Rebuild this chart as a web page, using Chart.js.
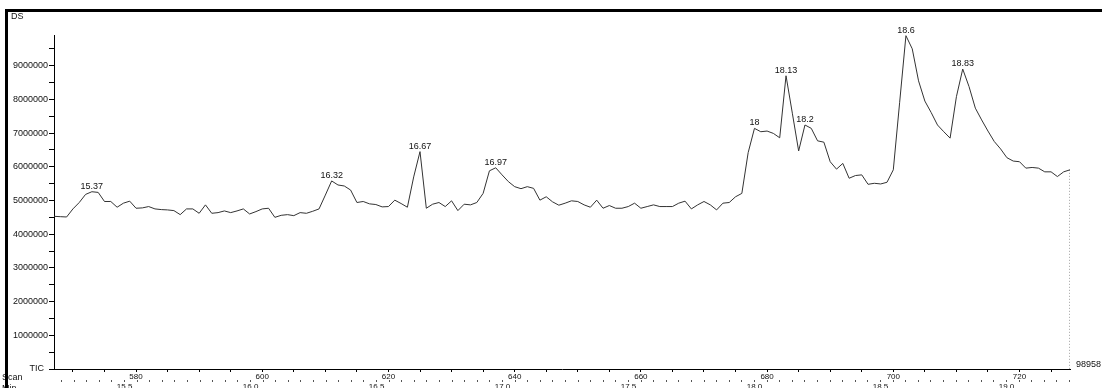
<!DOCTYPE html>
<html>
<head>
<meta charset="utf-8">
<script src="https://cdn.jsdelivr.net/npm/chart.js@4/dist/chart.umd.min.js"></script>
<style>
  body { margin: 0; background: #fff; }
  #wrap { position: relative; width: 1102px; height: 388px; overflow: hidden; }
  #frame { position: absolute; left: 5px; top: 9px; width: 1200px; height: 500px;
           border-left: 3px solid #000; border-top: 3px solid #000; pointer-events: none; }
  canvas { position: absolute; left: 0; top: 0; }
</style>
</head>
<body>
<div id="wrap">
  <canvas id="tic" width="1102" height="388"></canvas>
  <div id="frame"></div>
</div>
<script>
// scans 567 .. 728, one TIC value per scan
var firstScan = 567;
var tic = [
  4530000, 4520000, 4510000, 4750000, 4940000, 5180000, 5260000, 5240000, 4970000, 4970000,
  4800000, 4920000, 4980000, 4770000, 4780000, 4820000, 4750000, 4730000, 4720000, 4700000,
  4580000, 4750000, 4750000, 4620000, 4870000, 4620000, 4640000, 4690000, 4640000, 4690000,
  4750000, 4600000, 4670000, 4750000, 4770000, 4500000, 4560000, 4580000, 4550000, 4640000,
  4620000, 4680000, 4750000, 5160000, 5580000, 5460000, 5430000, 5310000, 4940000, 4970000,
  4900000, 4880000, 4810000, 4820000, 5010000, 4910000, 4800000, 5700000, 6450000, 4770000,
  4890000, 4940000, 4820000, 4990000, 4700000, 4890000, 4870000, 4940000, 5210000, 5880000,
  5970000, 5760000, 5560000, 5410000, 5350000, 5410000, 5360000, 5010000, 5110000, 4960000,
  4860000, 4920000, 4990000, 4970000, 4870000, 4800000, 5010000, 4770000, 4850000, 4770000,
  4770000, 4820000, 4920000, 4770000, 4820000, 4870000, 4820000, 4820000, 4820000, 4920000,
  4980000, 4750000, 4870000, 4970000, 4870000, 4720000, 4920000, 4940000, 5110000, 5210000,
  6420000, 7140000, 7040000, 7060000, 6990000, 6860000, 8700000, 7590000, 6470000, 7240000,
  7140000, 6770000, 6730000, 6150000, 5930000, 6100000, 5660000, 5740000, 5760000, 5480000,
  5510000, 5490000, 5540000, 5910000, 7900000, 9890000, 9500000, 8550000, 7950000, 7610000,
  7240000, 7040000, 6850000, 8080000, 8900000, 8380000, 7740000, 7390000, 7060000, 6750000,
  6530000, 6270000, 6170000, 6150000, 5960000, 5980000, 5960000, 5850000, 5850000, 5710000,
  5850000, 5910000
];

// labelled peaks (scan number and retention time text)
var peakScans = [573, 611, 625, 637, 678, 683, 686, 702, 711];
var peakLabels = ['15.37', '16.32', '16.67', '16.97', '18', '18.13', '18.2', '18.6', '18.83'];

var scanMin = 567, scanMax = 728;
var minuteMin = 15.22, minuteMax = 19.252;
var yMax = 9910000;
var totalLabel = '98958';

// tick spacing: minor marks, labelled every n-th
var scanStep = 5, scanLabelEvery = 20;
var minuteStep = 0.05, minuteLabelEvery = 0.5;
var yStep = 500000, yLabelEvery = 1000000;

var points = [];
for (var i = 0; i < tic.length; i++) {
  points.push({ x: firstScan + i, y: tic[i] });
}
var last = points[points.length - 1];

function stepTicks(lo, hi, step) {
  var out = [];
  var k0 = Math.ceil(lo / step - 1e-9), k1 = Math.floor(hi / step + 1e-9);
  for (var k = k0; k <= k1; k++) out.push({ value: Math.round(k * step * 1000) / 1000 });
  return out;
}
function isMultiple(v, m) {
  var q = v / m;
  return Math.abs(q - Math.round(q)) < 1e-6;
}

var fnt = 'Liberation Sans, Arial, sans-serif';

var textPlugin = {
  id: 'texts',
  afterDatasetsDraw: function(chart) {
    var ctx = chart.ctx;
    var xs = chart.scales.x, ys = chart.scales.y;
    ctx.save();
    ctx.fillStyle = '#111';
    ctx.font = '9px ' + fnt;
    ctx.textAlign = 'center';
    ctx.textBaseline = 'alphabetic';
    for (var i = 0; i < peakScans.length; i++) {
      var v = tic[peakScans[i] - firstScan];
      ctx.fillText(peakLabels[i], xs.getPixelForValue(peakScans[i]), ys.getPixelForValue(v) - 3);
    }
    ctx.textAlign = 'left';
    ctx.fillText('DS', 11, 19);
    ctx.fillText('Scan', 2, 380);
    ctx.fillText('Min', 2, 391);
    ctx.fillText(totalLabel, xs.right + 6, ys.getPixelForValue(0) - 2);
    ctx.textAlign = 'right';
    ctx.fillText('TIC', 44, ys.getPixelForValue(0) + 2);
    ctx.restore();
  }
};

new Chart(document.getElementById('tic'), {
  type: 'line',
  data: {
    datasets: [
      {
        data: points,
        borderColor: '#333',
        borderWidth: 1,
        pointRadius: 0,
        tension: 0
      },
      {
        data: [{ x: last.x, y: last.y }, { x: last.x, y: 0 }],
        borderColor: '#444',
        borderWidth: 1,
        borderDash: [1, 2],
        pointRadius: 0
      }
    ]
  },
  options: {
    responsive: false,
    animation: false,
    devicePixelRatio: 1,
    layout: { padding: { left: 0, top: 35, right: 32, bottom: 0 } },
    plugins: { legend: { display: false }, tooltip: { enabled: false } },
    scales: {
      x: {
        type: 'linear', position: 'bottom', weight: 0,
        min: scanMin, max: scanMax,
        grid: { drawOnChartArea: false, tickLength: 3, color: '#000' },
        border: { color: '#000', width: 1 },
        ticks: {
          autoSkip: false, maxRotation: 0,
          padding: 0, color: '#111', font: { size: 8, family: fnt },
          callback: function(v) { return isMultiple(v, scanLabelEvery) ? String(Math.round(v)) : ''; }
        },
        afterBuildTicks: function(s) { s.ticks = stepTicks(scanMin, scanMax, scanStep); },
        afterFit: function(s) { s.height = 11; }
      },
      x2: {
        type: 'linear', position: 'bottom', weight: 1,
        min: minuteMin, max: minuteMax,
        grid: { drawOnChartArea: false, tickLength: 2, color: '#555' },
        border: { display: false },
        ticks: {
          autoSkip: false, maxRotation: 0,
          padding: 0, color: '#111', font: { size: 8, family: fnt },
          callback: function(v) { return isMultiple(v, minuteLabelEvery) ? v.toFixed(1) : ''; }
        },
        afterBuildTicks: function(s) { s.ticks = stepTicks(minuteMin, minuteMax, minuteStep); },
        afterFit: function(s) { s.height = 8; }
      },
      y: {
        type: 'linear', min: 0, max: yMax,
        grid: { drawOnChartArea: false, tickLength: 5, color: '#000' },
        border: { color: '#000', width: 1 },
        ticks: {
          autoSkip: false,
          padding: 1, color: '#111', font: { size: 9, family: fnt },
          callback: function(v) {
            if (v === 0) return '';
            return isMultiple(v, yLabelEvery) ? String(Math.round(v)) : '';
          }
        },
        afterBuildTicks: function(s) { s.ticks = stepTicks(0, yMax, yStep); },
        afterFit: function(s) { s.width = 54; }
      }
    }
  },
  plugins: [textPlugin]
});
</script>
</body>
</html>
